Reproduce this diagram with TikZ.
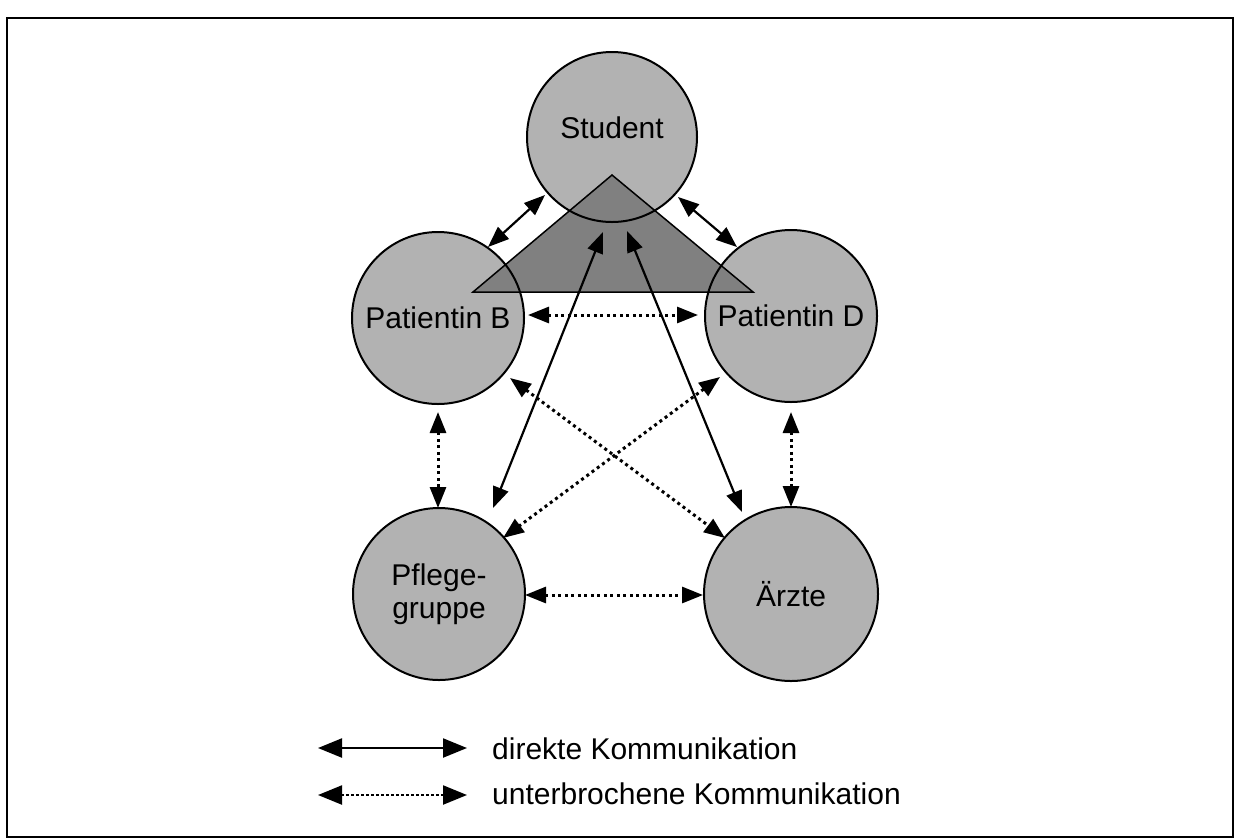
\documentclass[tikz,border=0pt]{standalone}
\usepackage{fontspec}
\setmainfont{Liberation Sans}
\usetikzlibrary{arrows.meta,calc,backgrounds}
\begin{document}
\begin{tikzpicture}[x=1pt,y=-1pt,
  person/.style={circle,draw,line width=2pt,inner sep=0pt,minimum size=172pt,
    font=\fontsize{30}{33}\selectfont,align=center},
  circfill/.style={fill=black!30},
  trifill/.style={fill=black!50},
  direct/.style={line width=2.2pt,{Triangle[length=21pt,width=16pt]}-{Triangle[length=21pt,width=16pt]}},
  interrupted/.style={line width=3pt,dash pattern=on 3pt off 3.5pt,
    {Triangle[length=21pt,width=16pt]}-{Triangle[length=21pt,width=16pt]}},
  legdirect/.style={line width=2.2pt,{Triangle[length=24pt,width=19pt]}-{Triangle[length=24pt,width=19pt]}},
  leginterrupted/.style={line width=2.2pt,dash pattern=on 2.5pt off 2.5pt,
    {Triangle[length=24pt,width=19pt]}-{Triangle[length=24pt,width=19pt]}},
  legtext/.style={anchor=base west,inner sep=0pt,font=\fontsize{30}{33}\selectfont}]
\useasboundingbox (0,0) rectangle (1236,839);
\draw[line width=1.5pt] (7,18) rectangle (1233,837);

% nodes
\node[person,minimum size=170pt,text depth=18pt] (S) at (612,137) {Student};
\node[person] (B) at (438,318) {Patientin B};
\node[person] (D) at (791,316) {Patientin D};
\node[person] (P) at (439,594) {Pflege-\\gruppe};
\node[person,minimum size=174pt] (A) at (791,594) {Ärzte};

% fills on background
\begin{pgfonlayer}{background}
  \fill[circfill] (S.center) circle[radius=85pt];
  \fill[circfill] (B.center) circle[radius=86pt];
  \fill[circfill] (D.center) circle[radius=86pt];
  \fill[circfill] (P.center) circle[radius=86pt];
  \fill[circfill] (A.center) circle[radius=87pt];
  \fill[trifill] ($(S)+(-139,155)$) -- ($(S)+(0,38)$) -- ($(S)+(141,155)$) -- cycle;
\end{pgfonlayer}
\draw[line width=1.5pt,line join=miter] ($(S)+(-139,155)$) -- ($(S)+(0,38)$) -- ($(S)+(141,155)$) -- cycle;

% direct communication
\draw[direct] ($(S)+(-67,58)$) -- ($(B)+(50,-71)$);
\draw[direct] ($(S)+(66,60)$) -- ($(D)+(-54,-69)$);
\draw[direct] ($(S)+(-9,95)$) -- ($(P)+(54,-86)$);
\draw[direct] ($(S)+(15,94)$) -- ($(A)+(-49,-82)$);

% interrupted communication
\draw[interrupted] ($(B)+(90,-3)$) -- ($(D)+(-93,-1)$);
\draw[interrupted] ($(B)+(72,60)$) -- ($(A)+(-66,-56)$);
\draw[interrupted] ($(D)+(-71,61)$) -- ($(P)+(64,-56)$);
\draw[interrupted] ($(B)+(0,94)$) -- ($(P)+(-1,-86)$);
\draw[interrupted] ($(D)+(0,96)$) -- ($(A)+(0,-87)$);
\draw[interrupted] ($(P)+(86,1)$) -- ($(A)+(-88,1)$);

% legend
\coordinate (l1a) at (318,748);
\coordinate (l1b) at (467,748);
\coordinate (l2a) at (318,795);
\coordinate (l2b) at (467,795);
\draw[legdirect] (l1a) -- (l1b);
\draw[leginterrupted] (l2a) -- (l2b);
\node[legtext] (t1) at (492,759) {direkte Kommunikation};
\node[legtext] (t2) at (492,804) {unterbrochene Kommunikation};
\end{tikzpicture}
\end{document}
